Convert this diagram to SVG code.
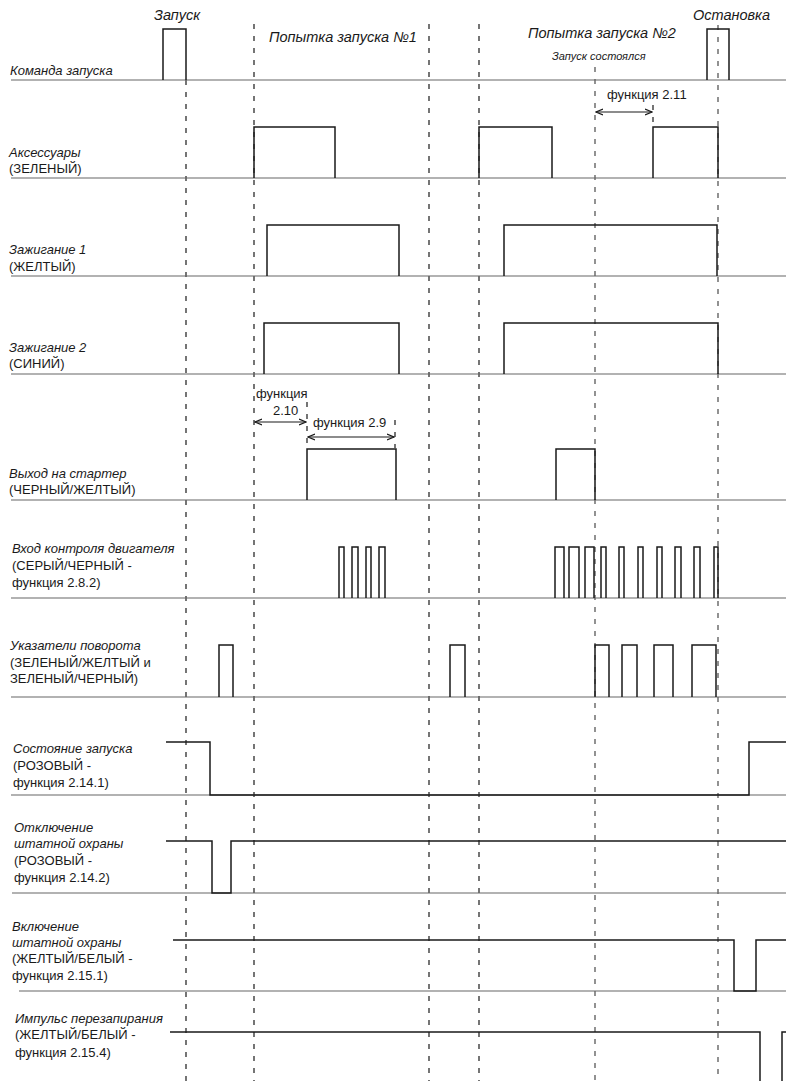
<svg xmlns="http://www.w3.org/2000/svg" width="786" height="1081" viewBox="0 0 786 1081">
<defs>
<style>
text{font-family:"Liberation Sans",Arial,sans-serif;font-size:13px;fill:#1a1a1a}
.i{font-style:italic}
.s{font-size:11px}
.h{font-size:14.5px}
.base{stroke:#666;stroke-width:1.2;fill:none}
.sig{stroke:#1a1a1a;stroke-width:1.5;fill:none}
.dash{stroke:#1a1a1a;stroke-width:1.2;stroke-dasharray:5 7;fill:none}
.dashg{stroke:#777;stroke-width:1.6;stroke-dasharray:5 7;fill:none}
.ar{stroke:#1a1a1a;stroke-width:1.2;fill:none;marker-start:url(#a0);marker-end:url(#a1)}
</style>
<marker id="a1" viewBox="0 0 8 8" refX="7" refY="4" markerWidth="8" markerHeight="8" markerUnits="userSpaceOnUse" orient="auto"><path d="M0,1 L7,4 L0,7" fill="none" stroke="#1a1a1a" stroke-width="1.2"/></marker>
<marker id="a0" viewBox="0 0 8 8" refX="1" refY="4" markerWidth="8" markerHeight="8" markerUnits="userSpaceOnUse" orient="auto"><path d="M8,1 L1,4 L8,7" fill="none" stroke="#1a1a1a" stroke-width="1.2"/></marker>
</defs>
<rect width="786" height="1081" fill="#fff"/>

<g id="connectors">
<path class="dash" d="M186,80 V1081"/>
<path class="dash" d="M254,24 V1081"/>
<path class="dash" d="M429,24 V1081"/>
<path class="dash" d="M479,24 V1081"/>
<path class="dashg" d="M595,67 V1081"/>
<path class="dashg" d="M718,25 V1081"/>
<path class="dash" d="M307,402 V448"/>
<path class="dash" d="M395,420 V448"/>
<path class="dash" d="M653,105 V127"/>
<path class="ar" d="M255,422 H306"/>
<path class="ar" d="M308,437 H394"/>
<path class="ar" d="M596,112 H652"/>
</g>

<g id="headers">
<text class="i h" x="154" y="20">Запуск</text>
<text class="i h" x="269" y="42">Попытка запуска №1</text>
<text class="i h" x="528" y="38">Попытка запуска №2</text>
<text class="i s" x="552" y="60">Запуск состоялся</text>
<text class="i h" x="693" y="20">Остановка</text>
<text x="607" y="99">функция 2.11</text>
<text x="256" y="398">функция</text>
<text x="273" y="415">2.10</text>
<text x="313" y="427">функция 2.9</text>
</g>

<g id="cmd">
<path class="base" d="M11,80 H786"/>
<path class="sig" d="M163,80 V29 H186 V80 M707,80 V29 H729 V80"/>
<text class="i" x="10" y="75">Команда запуска</text>
</g>

<g id="acc">
<path class="base" d="M11,178 H786"/>
<path class="sig" d="M254,178 V127 H335 V178 M479,178 V127 H552 V178 M653,178 V127 H718 V178"/>
<text class="i" x="9" y="157">Аксессуары</text>
<text x="9" y="173">(ЗЕЛЕНЫЙ)</text>
</g>

<g id="ign1">
<path class="base" d="M11,276 H786"/>
<path class="sig" d="M267,276 V225 H399 V276 M504,276 V225 H717 V276"/>
<text class="i" x="9" y="254">Зажигание 1</text>
<text x="9" y="271">(ЖЕЛТЫЙ)</text>
</g>

<g id="ign2">
<path class="base" d="M11,374 H786"/>
<path class="sig" d="M264,374 V323 H399 V374 M504,374 V323 H718 V374"/>
<text class="i" x="9" y="352">Зажигание 2</text>
<text x="9" y="368">(СИНИЙ)</text>
</g>

<g id="starter">
<path class="base" d="M11,500 H786"/>
<path class="sig" d="M307,500 V449 H396 V500 M556,500 V449 H595 V500"/>
<text class="i" x="9" y="478">Выход на стартер</text>
<text x="9" y="494">(ЧЕРНЫЙ/ЖЕЛТЫЙ)</text>
</g>

<g id="engine">
<path class="base" d="M11,598 H786"/>
<path class="sig" d="M339,598 V547 H344 V598 M352,598 V547 H358 V598 M366,598 V547 H371 V598 M379,598 V547 H385 V598 M555,598 V547 H564 V598 M569,598 V547 H579 V598 M585,598 V547 H594 V598 M601,598 V547 H606 V598 M619,598 V547 H624 V598 M638,598 V547 H643 V598 M657,598 V547 H662 V598 M675,598 V547 H681 V598 M694,598 V547 H700 V598 M714,598 V547 H718 V598"/>
<text class="i" x="12" y="553">Вход контроля двигателя</text>
<text x="12" y="570">(СЕРЫЙ/ЧЕРНЫЙ -</text>
<text x="12" y="587">функция 2.8.2)</text>
</g>

<g id="turn">
<path class="base" d="M11,697 H786"/>
<path class="sig" d="M219,697 V645 H233 V697 M450,697 V645 H465 V697 M595,697 V645 H609 V697 M622,697 V645 H637 V697 M654,697 V645 H673 V697 M692,697 V645 H716 V697"/>
<text class="i" x="10" y="650">Указатели поворота</text>
<text x="10" y="667">(ЗЕЛЕНЫЙ/ЖЕЛТЫЙ и</text>
<text x="10" y="683">ЗЕЛЕНЫЙ/ЧЕРНЫЙ)</text>
</g>

<g id="state">
<path class="base" d="M11,795 H786"/>
<path class="sig" d="M166,742 H210 V795 H749 V742 H786"/>
<text class="i" x="13" y="753">Состояние запуска</text>
<text x="13" y="770">(РОЗОВЫЙ -</text>
<text x="13" y="787">функция 2.14.1)</text>
</g>

<g id="secoff">
<path class="base" d="M12,893 H786"/>
<path class="sig" d="M166,841 H212 V893 H231 V841 H786"/>
<text class="i" x="14" y="832">Отключение</text>
<text class="i" x="14" y="848">штатной охраны</text>
<text x="14" y="865">(РОЗОВЫЙ -</text>
<text x="14" y="882">функция 2.14.2)</text>
</g>

<g id="secon">
<path class="base" d="M19,991 H786"/>
<path class="sig" d="M173,940 H734 V991 H756 V940 H786"/>
<text class="i" x="12" y="931">Включение</text>
<text class="i" x="12" y="947">штатной охраны</text>
<text x="12" y="963">(ЖЕЛТЫЙ/БЕЛЫЙ -</text>
<text x="12" y="980">функция 2.15.1)</text>
</g>

<g id="reset">
<path class="sig" d="M170,1032 H760 V1081 M782,1081 V1032 H786"/>
<text class="i" x="15" y="1023">Импульс перезапирания</text>
<text x="15" y="1039">(ЖЕЛТЫЙ/БЕЛЫЙ -</text>
<text x="15" y="1057">функция 2.15.4)</text>
</g>
</svg>
